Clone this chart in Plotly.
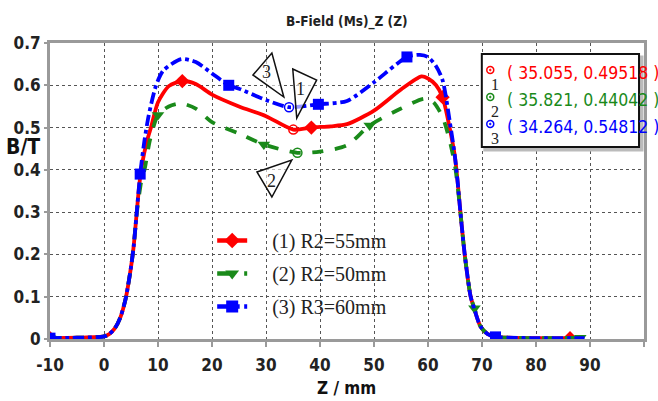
import plotly.graph_objects as go

# ---------------- data ----------------
z_red = [-10, -5, 0, 1, 2, 3, 4, 5, 5.5, 6, 6.5, 7, 8, 8.7, 10, 12, 14.5, 17, 20, 25, 30, 35.055, 38.4, 42, 45, 50, 55, 58.8, 60, 61.5, 62.7, 64, 65, 65.5, 66, 66.8, 67.9, 68.6, 69.7, 71, 72.5, 75, 80, 86.3]
b_red = [0.002, 0.003, 0.006, 0.012, 0.025, 0.05, 0.095, 0.17, 0.22, 0.29, 0.36, 0.41, 0.47, 0.5, 0.56, 0.598, 0.61, 0.603, 0.578, 0.55, 0.527, 0.49518, 0.5, 0.503, 0.508, 0.54, 0.59, 0.621, 0.616, 0.6, 0.572, 0.5, 0.43, 0.37, 0.3, 0.2, 0.1, 0.07, 0.03, 0.012, 0.005, 0.003, 0.002, 0.002]

z_green = [-10, -5, 0, 1, 2, 3, 4, 5, 5.5, 6, 6.5, 7, 7.5, 8.5, 10, 12, 14.3, 17, 20, 25, 29.6, 35.821, 40, 45, 49.2, 55, 59.3, 61, 62.7, 64, 65, 65.5, 66, 66.8, 67.9, 68.6, 69.7, 71, 72.5, 75, 80, 88.2]
b_green = [0.002, 0.003, 0.006, 0.012, 0.025, 0.05, 0.095, 0.17, 0.22, 0.29, 0.34, 0.38, 0.4, 0.47, 0.53, 0.55, 0.557, 0.545, 0.513, 0.486, 0.46, 0.44042, 0.443, 0.458, 0.505, 0.545, 0.568, 0.56, 0.525, 0.47, 0.41, 0.36, 0.3, 0.2, 0.1, 0.073, 0.03, 0.012, 0.005, 0.003, 0.002, 0.003]

z_blue = [-10, -5, 0, 1, 2, 3, 4, 5, 5.5, 6, 6.7, 7.5, 8.3, 9.65, 11, 14.3, 17, 20, 23.1, 25, 30, 34.264, 39.7, 45, 50, 56.1, 58.5, 60, 61.5, 62.7, 64.2, 65, 65.5, 66, 66.8, 67.9, 68.6, 69.7, 71, 72.5, 75, 80, 89]
b_blue = [0.002, 0.003, 0.006, 0.012, 0.025, 0.05, 0.095, 0.17, 0.22, 0.29, 0.39, 0.47, 0.53, 0.6, 0.635, 0.662, 0.655, 0.628, 0.6, 0.592, 0.565, 0.54812, 0.555, 0.563, 0.607, 0.667, 0.672, 0.667, 0.645, 0.612, 0.5, 0.43, 0.37, 0.3, 0.2, 0.1, 0.07, 0.03, 0.012, 0.005, 0.003, 0.002, 0.002]

# indices of points that carry a series marker
mk_red = [0, 16, 22, 30, 43]
mk_green = [0, 14, 20, 24, 35, 41]
mk_blue = [0, 10, 18, 22, 25, 39]

names = ["(1) R2=55mm", "(2) R2=50mm", "(3) R3=60mm"]
colors = ["#ff0000", "#1a8a1a", "#0000ff"]
symbols = ["diamond", "triangle-down", "square"]
dashes = ["solid", "dash", "dashdot"]

cursor_z = [35.055, 35.821, 34.264]
cursor_b = [0.49518, 0.44042, 0.54812]
cursor_labels = ["1", "2", "3"]

x_ticks = [-10, 0, 10, 20, 30, 40, 50, 60, 70, 80, 90, 100]
y_ticks = [0, 0.1, 0.2, 0.3, 0.4, 0.5, 0.6, 0.7]

title_text = "B-Field (Ms)_Z (Z)"
x_title = "Z / mm"
y_title = "B/T"

# ---------------- layout helpers ----------------
W, H = 658, 401
ML, MR, MT, MB = 50, 11, 43, 62
XMIN, XMAX, YMIN, YMAX = -10, 100, 0, 0.7
PW, PH = W - ML - MR, H - MT - MB


def zx(px):
    return XMIN + (px - ML) * (XMAX - XMIN) / PW


def by(py):
    return YMIN + (H - MB - py) * (YMAX - YMIN) / PH


def pxp(px):
    return (px - ML) / PW


def pyp(py):
    return (H - MB - py) / PH


NARROW = "DejaVu Sans Condensed, Liberation Sans Narrow, Arial Narrow, sans-serif"
SERIF = "Liberation Serif, Times New Roman, serif"

fig = go.Figure()

series = [(z_red, b_red, mk_red), (z_green, b_green, mk_green), (z_blue, b_blue, mk_blue)]
for i, (zs, bs, mk) in enumerate(series):
    fig.add_trace(go.Scatter(
        x=zs, y=bs, mode="lines", showlegend=False, hoverinfo="skip",
        line=dict(color=colors[i], width=3.8, dash=dashes[i], shape="spline", smoothing=0.7)))
    fig.add_trace(go.Scatter(
        x=[zs[k] for k in mk], y=[bs[k] for k in mk], mode="markers", showlegend=False,
        marker=dict(color=colors[i], symbol=symbols[i], size=11)))
    fig.add_trace(go.Scatter(
        x=[None], y=[None], mode="lines+markers", name="\u00a0\u00a0\u00a0\u00a0" + names[i], legendgroup=str(i),
        line=dict(color=colors[i], width=4.5, dash=dashes[i]),
        marker=dict(color=colors[i], symbol=symbols[i], size=12)))

# cursor markers on curves
for i in range(3):
    fig.add_trace(go.Scatter(
        x=[cursor_z[i]], y=[cursor_b[i]], mode="markers", showlegend=False,
        marker=dict(symbol="circle-open-dot", size=9, color=colors[i], line=dict(width=1.5))))

shapes = []
annotations = []

# readout box
shapes.append(dict(type="rect", xref="paper", yref="paper", x0=pxp(487), x1=pxp(645), y0=pyp(150), y1=pyp(57),
                   line=dict(color="#bbbbbb", width=3), fillcolor="#bbbbbb", layer="above"))
shapes.append(dict(type="rect", xref="paper", yref="paper", x0=pxp(484), x1=pxp(642), y0=pyp(147), y1=pyp(54),
                   line=dict(color="#111111", width=2), fillcolor="white", layer="above"))
box_rows_py = [70, 97, 124]
for i in range(3):
    cy = box_rows_py[i]
    shapes.append(dict(type="circle", xref="paper", yref="paper", x0=pxp(489), x1=pxp(496),
                       y0=pyp(cy + 3.5), y1=pyp(cy - 3.5), line=dict(color=colors[i], width=1.5),
                       fillcolor="white", layer="above"))
    shapes.append(dict(type="circle", xref="paper", yref="paper", x0=pxp(491.7), x1=pxp(493.3),
                       y0=pyp(cy + 0.8), y1=pyp(cy - 0.8), line=dict(color=colors[i], width=1),
                       fillcolor=colors[i], layer="above"))
    annotations.append(dict(
        xref="paper", yref="paper", x=pxp(507), y=pyp(73 + 27 * i), xanchor="left", yanchor="middle",
        text="( %.3f, %.5f )" % (cursor_z[i], cursor_b[i]), showarrow=False,
        font=dict(family=NARROW, size=17.5, color=colors[i])))
    annotations.append(dict(
        xref="paper", yref="paper", x=pxp(497), y=pyp(84 + 27 * i), xanchor="center", yanchor="middle",
        text=cursor_labels[i], showarrow=False, font=dict(family=SERIF, size=16, color="#222")))

# callout triangles
tris = [
    ([(254, 75), (273, 53), (285, 97)], (268, 72), "3"),
    ([(294, 69), (318, 80), (298, 118)], (302, 89), "1"),
    ([(258, 172), (293, 160), (273, 197)], (273, 181), "2"),
]
for pts, (tx, ty), lab in tris:
    path = "M " + " L ".join("%f,%f" % (zx(a), by(b)) for a, b in pts) + " Z"
    shapes.append(dict(type="path", xref="x", yref="y", path=path,
                       line=dict(color="#111", width=1.5), fillcolor="rgba(255,255,255,0.6)", layer="above"))
    annotations.append(dict(xref="x", yref="y", x=zx(tx), y=by(ty), text=lab, showarrow=False,
                            font=dict(family=SERIF, size=18, color="#222")))

# titles
annotations.append(dict(xref="paper", yref="paper", x=pxp(348), y=pyp(22), text="<b>" + title_text + "</b>",
                        showarrow=False, font=dict(family=NARROW, size=13.5, color="#222"),
                        xanchor="center", yanchor="middle"))
annotations.append(dict(xref="paper", yref="paper", x=pxp(23), y=pyp(147), text="<b>" + y_title + "</b>",
                        showarrow=False, font=dict(family=NARROW, size=21, color="#111"),
                        xanchor="center", yanchor="middle"))
annotations.append(dict(xref="paper", yref="paper", x=pxp(348), y=pyp(388), text="<b>" + x_title + "</b>",
                        showarrow=False, font=dict(family=NARROW, size=17, color="#111"),
                        xanchor="center", yanchor="middle"))

axis_common = dict(showline=True, linecolor="#9a9a9a", linewidth=3, mirror=True,
                   showgrid=True, gridcolor="#555555", gridwidth=1.3, griddash="dot",
                   zeroline=False, ticks="outside", tickcolor="#9a9a9a", tickwidth=1.5,
                   tickfont=dict(family=NARROW, size=17, color="#222", weight="bold"))

fig.update_layout(
    width=W, height=H, margin=dict(l=ML, r=MR, t=MT, b=MB),
    paper_bgcolor="white", plot_bgcolor="white",
    xaxis=dict(range=[XMIN, XMAX], tickvals=x_ticks, ticktext=[str(v) for v in x_ticks], ticklen=5,
               ticklabelstandoff=4, **axis_common),
    yaxis=dict(range=[YMIN, YMAX], tickvals=y_ticks, ticktext=["0", "0.1", "0.2", "0.3", "0.4", "0.5", "0.6", "0.7"],
               ticklen=3, **axis_common),
    showlegend=True,
    legend=dict(x=pxp(213), y=pyp(221), xanchor="left", yanchor="top", bgcolor="rgba(255,255,255,0)",
                font=dict(family=SERIF, size=20, color="#222"), tracegroupgap=4,
                itemwidth=30),
    shapes=shapes, annotations=annotations,
)

fig.write_html("out.html")
